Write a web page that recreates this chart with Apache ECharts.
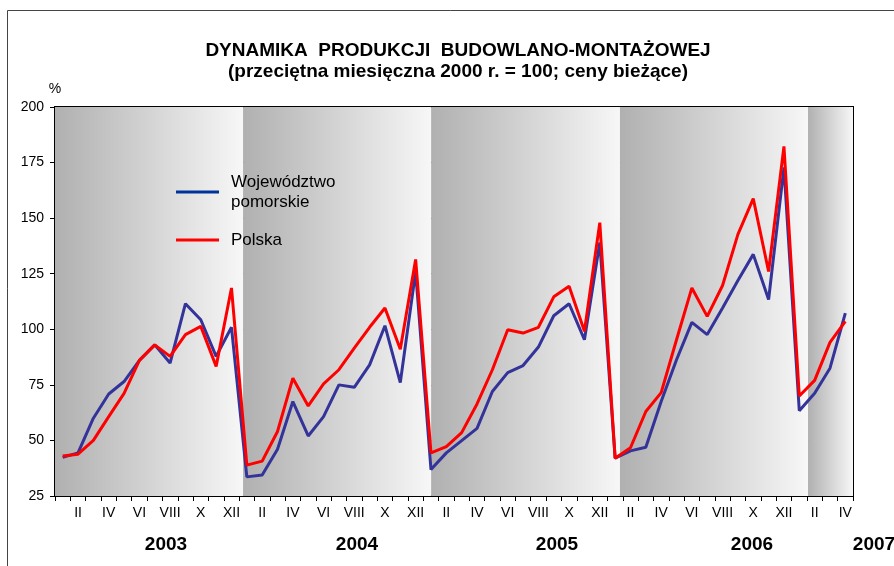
<!DOCTYPE html>
<html>
<head>
<meta charset="utf-8">
<script src="https://cdn.jsdelivr.net/npm/echarts@6/dist/echarts.min.js"></script>
<style>
  html, body { margin: 0; padding: 0; background: #fff; }
  #chart { width: 894px; height: 566px; }
</style>
</head>
<body>
<div id="chart"></div>
<script>
// months Jan 2003 .. Apr 2007
const romans = ['I', 'II', 'III', 'IV', 'V', 'VI', 'VII', 'VIII', 'IX', 'X', 'XI', 'XII'];
const months = [];
for (let y = 0; y < 4; y++) months.push(...romans);
months.push('I', 'II', 'III', 'IV');

const years = ['2003', '2004', '2005', '2006', '2007'];

const pomorskie = [
  42.4, 44.4, 60, 70.9, 76.5, 86, 93, 84.8, 111.5, 104.3, 87.8, 100.9,
  33.6, 34.4, 46, 67.5, 52, 60.7, 75, 73.9, 84, 101.6, 76, 126,
  36.9, 44.4, 49.9, 55.4, 72, 80.5, 83.7, 92, 106.1, 111.5, 95.3, 139,
  42, 45.3, 46.9, 67.5, 86.3, 103.1, 97.6, 109.6, 121.9, 133.7, 113.4, 172.8,
  63.4, 71.2, 82.5, 107.3
];

const polska = [
  43, 43.8, 50, 60.7, 71.2, 86, 93, 87.8, 97.6, 101.3, 83.3, 118.6,
  38.9, 40.7, 54, 78, 65.5, 75.4, 81.8, 91.5, 100.9, 109.6, 91, 131.4,
  44.4, 47.2, 53.5, 66.4, 81.8, 99.8, 98.3, 100.9, 114.6, 119.4, 99.1, 148,
  42, 46.7, 63, 71.5, 95.3, 118.6, 105.8, 119.7, 142.7, 158.8, 126, 182.3,
  70, 77, 94.1, 103.6
];

// background year bands (drawn on a hidden helper axis, in band-months)
const bandEdges = [0, 12, 24, 36.05, 48.05, 50.92];

const FONT = "'Liberation Sans', Arial, sans-serif";
const chart = echarts.init(document.getElementById('chart'));

const bandGradient = {
  type: 'linear', x: 0, y: 0, x2: 1, y2: 0,
  colorStops: [{ offset: 0, color: '#b0b0b0' }, { offset: 1, color: '#f7f7f7' }]
};

const bandAreas = [];
for (let i = 0; i < bandEdges.length - 1; i++) {
  bandAreas.push([{ xAxis: bandEdges[i], itemStyle: { color: bandGradient } }, { xAxis: bandEdges[i + 1] }]);
}

// year captions under the axis
const yearX = [166, 357, 557, 752, 874];
const yearTexts = years.map((y, i) => ({
  type: 'text',
  x: yearX[i],
  y: 545,
  style: {
    text: y, font: 'bold 19px ' + FONT, fill: '#000',
    textAlign: 'center', textVerticalAlign: 'middle', align: 'center', verticalAlign: 'middle'
  }
}));

const option = {
  animation: false,
  backgroundColor: '#fff',
  textStyle: { fontFamily: FONT },
  graphic: [
    {
      type: 'polyline',
      shape: { points: [[7.5, 566], [7.5, 10.5], [894, 10.5]] },
      style: { stroke: '#444', lineWidth: 1, fill: null }
    },
    {
      type: 'text', x: 458, y: 51,
      style: {
        text: 'DYNAMIKA  PRODUKCJI  BUDOWLANO-MONTAŻOWEJ', font: 'bold 19px ' + FONT, fill: '#000',
        textAlign: 'center', textVerticalAlign: 'middle', align: 'center', verticalAlign: 'middle'
      }
    },
    {
      type: 'text', x: 458, y: 72,
      style: {
        text: '(przeciętna miesięczna 2000 r. = 100; ceny bieżące)', font: 'bold 19px ' + FONT, fill: '#000',
        textAlign: 'center', textVerticalAlign: 'middle', align: 'center', verticalAlign: 'middle'
      }
    },
    ...yearTexts
  ],
  legend: {
    orient: 'vertical',
    left: 176,
    top: 172,
    padding: 0,
    itemWidth: 43,
    itemHeight: 3,
    itemGap: 18,
    icon: 'rect',
    textStyle: { fontSize: 17, color: '#000', lineHeight: 20, padding: [0, 0, 0, 7] },
    data: [
      { name: 'Województwo\npomorskie', itemStyle: { color: '#003399' } },
      { name: 'Polska', itemStyle: { color: '#ff0000' } }
    ]
  },
  grid: {
    left: 55, right: 41, top: 107, bottom: 70,
    show: true, borderColor: '#000', borderWidth: 2, backgroundColor: 'transparent'
  },
  xAxis: [
    {
      type: 'category',
      data: months,
      boundaryGap: true,
      axisLine: { lineStyle: { color: '#000', width: 2 } },
      axisTick: { show: true, interval: 0, length: 5, lineStyle: { color: '#000' } },
      axisLabel: {
        interval: (i) => i % 2 === 1,
        color: '#000', fontSize: 14, margin: 10
      },
      splitLine: { show: false }
    },
    { type: 'value', min: 0, max: bandEdges[bandEdges.length - 1], show: false }
  ],
  yAxis: {
    type: 'value',
    min: 25, max: 200, interval: 25,
    name: '%',
    nameLocation: 'end',
    nameGap: 11,
    nameTextStyle: { color: '#000', fontSize: 14, align: 'center' },
    axisLine: { show: true, lineStyle: { color: '#000', width: 2 } },
    axisTick: { show: true, length: 5, lineStyle: { color: '#000' } },
    axisLabel: { color: '#000', fontSize: 14, margin: 11 },
    splitLine: { show: true, lineStyle: { color: '#1a1a1a', width: 1 } }
  },
  series: [
    {
      type: 'line',
      name: 'bands',
      xAxisIndex: 1,
      data: [],
      z: -1,
      silent: true,
      markArea: { silent: true, data: bandAreas }
    },
    {
      name: 'Województwo\npomorskie',
      type: 'line',
      data: pomorskie,
      showSymbol: false,
      symbol: 'none',
      lineStyle: { color: '#333399', width: 3 },
      itemStyle: { color: '#333399' },
      z: 3
    },
    {
      name: 'Polska',
      type: 'line',
      data: polska,
      showSymbol: false,
      symbol: 'none',
      lineStyle: { color: '#ff0000', width: 3 },
      itemStyle: { color: '#ff0000' },
      z: 4
    }
  ]
};

chart.setOption(option);
</script>
</body>
</html>
